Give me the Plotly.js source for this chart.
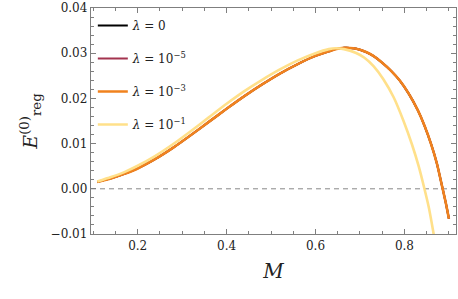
<!DOCTYPE html>
<html>
<head>
<meta charset="utf-8">
<script src="https://cdn.plot.ly/plotly-3.0.1.min.js"></script>
<style>html,body{margin:0;padding:0;background:#fff;}#chart{width:458px;height:299px;}</style>
</head>
<body>
<div id="chart"></div>
<script>
// Mass values M and regularized energy E_reg^(0)
const mOrange = [0.109, 0.14, 0.17, 0.2, 0.24, 0.28, 0.32, 0.36, 0.40, 0.44, 0.48, 0.52, 0.56, 0.60, 0.63, 0.645, 0.665, 0.685, 0.70, 0.715, 0.73, 0.75, 0.77, 0.79, 0.81, 0.83, 0.845, 0.86, 0.873, 0.886, 0.893, 0.900];
const eOrange = [0.0015, 0.0023, 0.0033, 0.0045, 0.0066, 0.0091, 0.0119, 0.0148, 0.0177, 0.0205, 0.0231, 0.0255, 0.0276, 0.0294, 0.0304, 0.0309, 0.0312, 0.0311, 0.03075, 0.0302, 0.0294, 0.0279, 0.0261, 0.0239, 0.0210, 0.0174, 0.0140, 0.0099, 0.0056, 0.0, -0.0031, -0.0066];
// λ = 0 and λ = 10^-5 coincide with λ = 10^-3 (hidden underneath in the picture)
const mZero = [0.109, 0.14, 0.17, 0.2, 0.24, 0.28, 0.32, 0.36, 0.40, 0.44, 0.48, 0.52, 0.56, 0.60, 0.63, 0.645, 0.665, 0.685, 0.70, 0.715, 0.73, 0.75, 0.77, 0.79, 0.81, 0.83, 0.845, 0.86, 0.873, 0.886, 0.893, 0.900];
const eZero = [0.0015, 0.0023, 0.0033, 0.0045, 0.0066, 0.0091, 0.0119, 0.0148, 0.0177, 0.0205, 0.0231, 0.0255, 0.0276, 0.0294, 0.0304, 0.0309, 0.0312, 0.0311, 0.03075, 0.0302, 0.0294, 0.0279, 0.0261, 0.0239, 0.0210, 0.0174, 0.0140, 0.0099, 0.0056, 0.0, -0.0031, -0.0066];
const mMinus5 = [0.109, 0.14, 0.17, 0.2, 0.24, 0.28, 0.32, 0.36, 0.40, 0.44, 0.48, 0.52, 0.56, 0.60, 0.63, 0.645, 0.665, 0.685, 0.70, 0.715, 0.73, 0.75, 0.77, 0.79, 0.81, 0.83, 0.845, 0.86, 0.873, 0.886, 0.893, 0.900];
const eMinus5 = [0.0015, 0.0023, 0.0033, 0.0045, 0.0066, 0.0091, 0.0119, 0.0148, 0.0177, 0.0205, 0.0231, 0.0255, 0.0276, 0.0294, 0.0304, 0.0309, 0.0312, 0.0311, 0.03075, 0.0302, 0.0294, 0.0279, 0.0261, 0.0239, 0.0210, 0.0174, 0.0140, 0.0099, 0.0056, 0.0, -0.0031, -0.0066];
const mYellow = [0.109, 0.14, 0.17, 0.2, 0.24, 0.28, 0.32, 0.36, 0.40, 0.44, 0.48, 0.52, 0.56, 0.60, 0.63, 0.645, 0.664, 0.69, 0.71, 0.731, 0.753, 0.776, 0.798, 0.817, 0.832, 0.845, 0.855, 0.864, 0.870];
const eYellow = [0.0016, 0.0026, 0.0037, 0.0051, 0.0073, 0.0099, 0.0128, 0.0158, 0.0188, 0.0216, 0.0241, 0.0264, 0.0284, 0.0300, 0.0309, 0.0311, 0.0309, 0.0301, 0.0290, 0.0271, 0.0242, 0.0202, 0.0150, 0.0098, 0.0050, 0.0, -0.0042, -0.0090, -0.0125];

const labels = ['<i>λ</i> = 0<sup> </sup>', '<i>λ</i> = 10<sup>−5</sup>', '<i>λ</i> = 10<sup>−3</sup>', '<i>λ</i> = 10<sup>−1</sup>'];
const colors = ['#000000', '#a3334f', '#f0821e', '#ffe08a'];
const xs = [mZero, mMinus5, mOrange, mYellow];
const ys = [eZero, eMinus5, eOrange, eYellow];
const widths = [2, 2, 2.6, 2.6];

const serif = "'DejaVu Serif', 'Liberation Serif', serif";

const traces = xs.map((x, i) => ({
  x: x, y: ys[i], type: 'scatter', mode: 'lines', name: labels[i],
  legendgroup: 'g' + i,
  line: {color: colors[i], width: widths[i], shape: 'spline', smoothing: 0.6}
}));

const axisCommon = {
  showgrid: false, zeroline: false, showline: true, linecolor: '#7f7f7f', linewidth: 1.2,
  mirror: 'allticks', ticks: 'inside', ticklen: 5, tickcolor: '#7f7f7f', tickwidth: 1,
  tickfont: {family: serif, size: 12, color: '#222'}
};

const layout = {
  width: 458, height: 299,
  margin: {l: 91, r: 2, t: 8, b: 65},
  paper_bgcolor: '#fff', plot_bgcolor: '#fff',
  font: {family: serif},
  showlegend: true,
  legend: {x: 0.005, y: 0.987, xanchor: 'left', yanchor: 'top', bgcolor: 'rgba(0,0,0,0)',
    font: {family: serif, size: 12, color: '#222'},
    tracegroupgap: 14, itemwidth: 30},
  xaxis: Object.assign({}, axisCommon, {
    range: [0.095, 0.916], tickvals: [0.2, 0.4, 0.6, 0.8], ticktext: ['0.2', '0.4', '0.6', '0.8'],
    minor: {dtick: 0.05, tick0: 0, ticks: 'inside', ticklen: 3, tickcolor: '#7f7f7f'},
    title: {text: '<i>M</i>', font: {family: serif, size: 20, color: '#222'}, standoff: 12}
  }),
  yaxis: Object.assign({}, axisCommon, {
    range: [-0.01, 0.04], tickvals: [-0.01, 0, 0.01, 0.02, 0.03, 0.04],
    ticktext: ['−0.01', '0.00', '0.01', '0.02', '0.03', '0.04'],
    minor: {dtick: 0.002, tick0: 0, ticks: 'inside', ticklen: 3, tickcolor: '#7f7f7f'},
    title: {text: '<i>E</i><sup>(0)</sup><sub>reg</sub>', font: {family: serif, size: 19, color: '#222'}, standoff: 8}
  }),
  shapes: [{type: 'line', xref: 'paper', x0: 0, x1: 1, yref: 'y', y0: 0, y1: 0,
    line: {color: '#888', width: 1, dash: '5px,4px'}, layer: 'below'}]
};

Plotly.newPlot('chart', traces, layout, {staticPlot: true, displayModeBar: false});
</script>
</body>
</html>
